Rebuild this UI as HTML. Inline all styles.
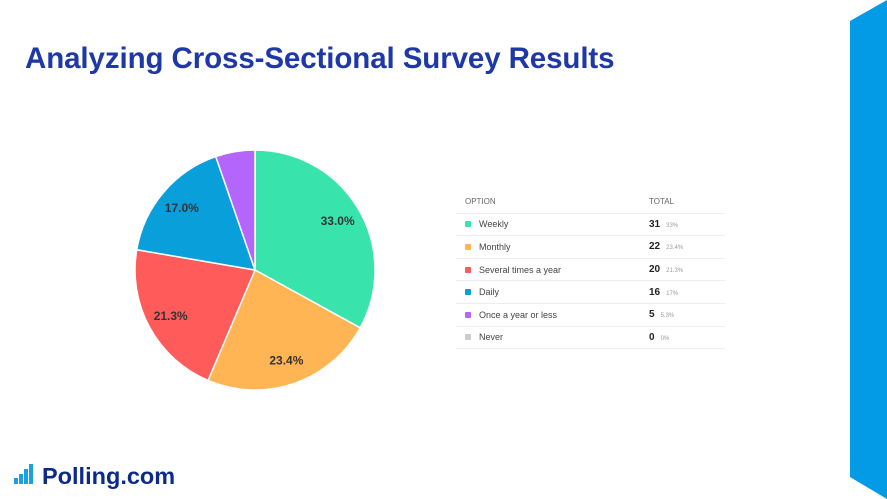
<!DOCTYPE html>
<html><head><meta charset="utf-8"><style>
body{margin:0;width:887px;height:499px;background:#fff;position:relative;overflow:hidden;font-family:"Liberation Sans",sans-serif}
#title{position:absolute;left:25px;top:42px;font-size:29.5px;font-weight:bold;color:#1e38a6;letter-spacing:-0.1px}
#tbl{position:absolute;left:456px;top:191px;width:269px;font-size:9px;color:#444}
.row{height:21.6px;border-bottom:1px solid #eee;display:flex;align-items:center;position:relative}
.sw{width:6px;height:6px;margin:0 8px 0 9px;border-radius:1px}
.tot{position:absolute;left:193px;font-weight:bold;font-size:10px;color:#222}
.pct{font-weight:normal;font-size:6px;color:#999;margin-left:6px}
</style></head><body>
<div id="title">Analyzing Cross-Sectional Survey Results</div>
<svg width="887" height="499" style="position:absolute;left:0;top:0">
<polygon points="850,21 887,0 887,499 850,477" fill="#039be5"/>
<g id="pie"></g>
<g>
<rect x="14" y="478" width="4" height="6" fill="#1ba0e0"/><rect x="19" y="474" width="4" height="10" fill="#1ba0e0"/><rect x="24" y="469" width="4" height="15" fill="#1ba0e0"/><rect x="29" y="464" width="4" height="20" fill="#1ba0e0"/>
<text x="42" y="484" font-size="23.5" font-weight="bold" fill="#0d2a8a" font-family="Liberation Sans, sans-serif">Polling.com</text>
</g>
</svg>
<div id="tbl">
<div class="row" style="color:#666;font-size:8px"><span style="margin-left:9px">OPTION</span><span class="tot" style="font-weight:normal;font-size:8px;color:#666">TOTAL</span></div>
</div>
<script>
const categories=["Weekly","Monthly","Several times a year","Daily","Once a year or less","Never"];
const totals=[31,22,20,16,5,0];
const percents=[33.0,23.4,21.3,17.0,5.3,0];
const pctLabels=["33%","23.4%","21.3%","17%","5.3%","0%"];
const colors=["#38e3ac","#ffb554","#ff5b5b","#089fda","#b466fc","#cccccc"];
const cx=255,cy=270,r=120;
const g=document.getElementById('pie');
const ns="http://www.w3.org/2000/svg";
let a=0;
const sum=percents.reduce((s,v)=>s+v,0);
percents.forEach((p,i)=>{
  if(p<=0)return;
  const a0=a,a1=a+p/sum*2*Math.PI;a=a1;
  const x0=cx+r*Math.sin(a0),y0=cy-r*Math.cos(a0),x1=cx+r*Math.sin(a1),y1=cy-r*Math.cos(a1);
  const path=document.createElementNS(ns,'path');
  path.setAttribute('d',`M${cx},${cy}L${x0},${y0}A${r},${r} 0 ${a1-a0>Math.PI?1:0} 1 ${x1},${y1}Z`);
  path.setAttribute('fill',colors[i]);path.setAttribute('stroke','#fff');path.setAttribute('stroke-width','1.5');
  
  
  g.appendChild(path);
  if(p>=10){
    const m=(a0+a1)/2;
    const t=document.createElementNS(ns,'text');
    t.setAttribute('x',cx+r*0.8*Math.sin(m));t.setAttribute('y',cy-r*0.8*Math.cos(m)+4);
    t.setAttribute('text-anchor','middle');t.setAttribute('font-size','12');t.setAttribute('font-weight','bold');t.setAttribute('fill','#333');
    t.textContent=p.toFixed(1)+'%';
    
    
    g.appendChild(t);
  }
});
const tbl=document.getElementById('tbl');
categories.forEach((c,i)=>{
  const row=document.createElement('div');row.className='row';
  
  
  row.innerHTML=`<span class="sw" style="background:${colors[i]}"></span><span>${c}</span><span class="tot">${totals[i]}<span class="pct">${pctLabels[i]}</span></span>`;
  tbl.appendChild(row);
});
</script>
</body></html>
